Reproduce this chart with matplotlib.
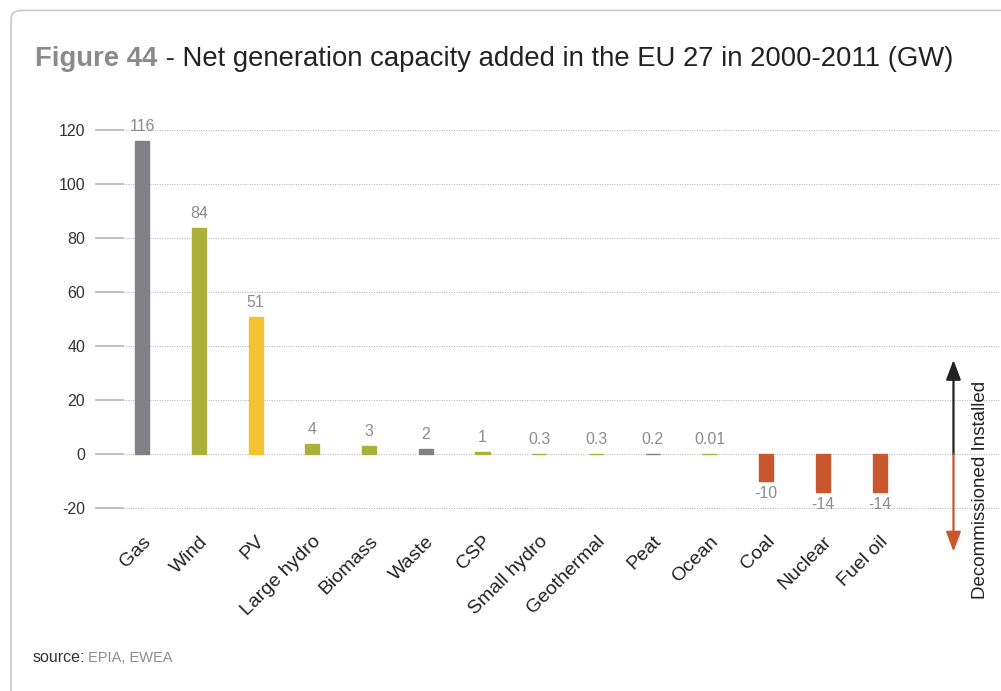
import matplotlib.pyplot as plt
from matplotlib.patches import FancyBboxPatch

# Dados
categorias = ['Gas', 'Wind', 'PV', 'Large hydro', 'Biomass', 'Waste', 'CSP',
              'Small hydro', 'Geothermal', 'Peat', 'Ocean', 'Coal', 'Nuclear', 'Fuel oil']
valores = [116, 84, 51, 4, 3, 2, 1, 0.3, 0.3, 0.2, 0.01, -10, -14, -14]
rotulos = ['116', '84', '51', '4', '3', '2', '1', '0.3', '0.3', '0.2', '0.01', '-10', '-14', '-14']
tipos = ['gas', 'ren', 'pv', 'ren', 'ren', 'gas', 'ren', 'ren', 'ren', 'gas', 'ren',
         'dec', 'dec', 'dec']
yticks = [-20, 0, 20, 40, 60, 80, 100, 120]

cores = {'gas': '#818185', 'ren': '#a9b13b', 'pv': '#f4c331', 'dec': '#c8572d'}

plt.rcParams['font.family'] = ['Liberation Sans', 'DejaVu Sans']

fig = plt.figure(figsize=(10.01, 6.91), dpi=100)
fig.patch.set_facecolor('white')

# moldura arredondada
moldura = FancyBboxPatch((0.011, -0.05), 1.1, 1.035, boxstyle='round,pad=0,rounding_size=0.012',
                         transform=fig.transFigure, facecolor='none', edgecolor='#c8c8c8',
                         linewidth=1.2, clip_on=False)
fig.patches.append(moldura)

ax = fig.add_axes([0.095, 0.233, 0.904, 0.586])
x = list(range(len(categorias)))
ax.bar(x, valores, width=0.25, color=[cores[t] for t in tipos],
       edgecolor=[cores[t] for t in tipos], linewidth=1.0, zorder=3)

for xi, v, r in zip(x, valores, rotulos):
    if v >= 0:
        ax.annotate(r, (xi, v), xytext=(0, 10.5), textcoords='offset points',
                    ha='center', va='center', fontsize=11.5, color='#8c8c8c')
    else:
        ax.annotate(r, (xi, v), xytext=(0, -9), textcoords='offset points',
                    ha='center', va='center', fontsize=11.5, color='#8c8c8c')

ax.set_xlim(-0.83, 15.12)
ax.set_ylim(-28, 122)

# grade
for yt in yticks:
    ax.axhline(yt, xmin=0.031, xmax=1, color='#b0b0b0', linestyle=(0, (1, 1.5)),
               linewidth=0.7, zorder=1)
    ax.axhline(yt, xmin=0, xmax=0.031, color='#b5b5b5', linewidth=1.2, zorder=1)

ax.set_yticks(yticks)
ax.set_yticklabels([str(y) for y in yticks], fontsize=11.5, color='#333333')
ax.tick_params(axis='y', length=0, pad=7)
ax.set_xticks(x)
ax.set_xticklabels(categorias, rotation=45, ha='right', rotation_mode='anchor',
                   fontsize=14, color='#222222')
ax.tick_params(axis='x', length=0, pad=2)
for s in ax.spines.values():
    s.set_visible(False)

# setas instalado / descomissionado
estilo = '-|>,head_length=1.2,head_width=0.45'
ax.annotate('', xy=(14.3, 35), xytext=(14.3, 0),
            arrowprops=dict(arrowstyle=estilo, color='#222222', lw=1.6,
                            shrinkA=0, shrinkB=0),
            annotation_clip=False)
ax.annotate('', xy=(14.3, -36), xytext=(14.3, 0),
            arrowprops=dict(arrowstyle=estilo, color='#c8572d', lw=1.6,
                            shrinkA=0, shrinkB=0),
            annotation_clip=False)
ax.text(14.77, -13, 'Decommissioned Installed', rotation=90, ha='center', va='center',
        fontsize=13.5, color='#222222', clip_on=False)

# título
fig.text(0.035, 0.915, 'Figure 44', fontsize=19.8, fontweight='bold', color='#8a8a8a',
         va='center', ha='left')
fig.text(0.158, 0.915, ' - Net generation capacity added in the EU 27 in 2000-2011 (GW)',
         fontsize=19.8, color='#222222', va='center', ha='left')

# fonte
fig.text(0.033, 0.048, 'source:', fontsize=11.5, color='#333333', va='center')
fig.text(0.088, 0.048, 'EPIA, EWEA', fontsize=10.5, color='#8c8c8c', va='center')

plt.savefig('out.png', dpi=100)
